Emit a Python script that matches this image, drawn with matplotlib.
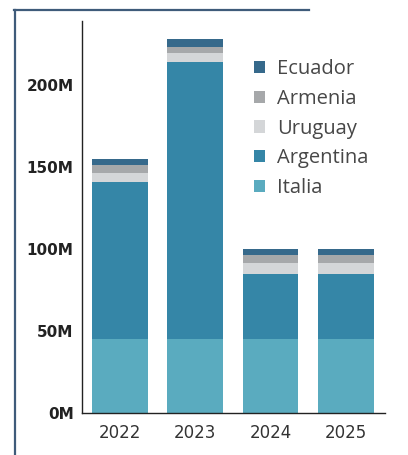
import matplotlib.pyplot as plt
from matplotlib.lines import Line2D
import numpy as np

years = ["2022", "2023", "2024", "2025"]
italia = [45, 45, 45, 45]
argentina = [96, 169, 40, 40]
uruguay = [5, 5.5, 6.5, 6.5]
armenia = [5, 3.5, 4.5, 4.5]
ecuador = [4, 5, 4, 4]

series = [
    ("Italia", italia, "#5aabbf"),
    ("Argentina", argentina, "#3586a7"),
    ("Uruguay", uruguay, "#d4d6d8"),
    ("Armenia", armenia, "#a6a8aa"),
    ("Ecuador", ecuador, "#36698b"),
]

fig = plt.figure(figsize=(4.08, 4.55), dpi=100)
ax = fig.add_axes([0.201, 0.0923, 0.743, 0.862])

x = np.arange(len(years))
bottom = np.zeros(len(years))
handles = []
for name, vals, color in series:
    bars = ax.bar(x, vals, bottom=bottom, width=0.74, color=color, label=name)
    bottom += np.array(vals)
    handles.append(bars)

ax.set_xlim(-0.5, 3.52)
ax.set_ylim(0, 239)
ax.set_yticks([0, 50, 100, 150, 200])
ax.set_yticklabels(["0M", "50M", "100M", "150M", "200M"])
ax.set_xticks(x)
ax.set_xticklabels(years)
ax.tick_params(axis="y", length=0, pad=6, labelsize=11, labelcolor="#222222")
ax.tick_params(axis="x", length=0, pad=8, labelsize=12, labelcolor="#333333")
for lbl in ax.get_yticklabels():
    lbl.set_fontweight("bold")
for side in ["top", "right"]:
    ax.spines[side].set_visible(False)
for side in ["left", "bottom"]:
    ax.spines[side].set_color("#222222")
    ax.spines[side].set_linewidth(1.0)

leg = ax.legend(
    handles[::-1], [s[0] for s in series][::-1],
    loc="upper left", bbox_to_anchor=(0.568, 0.902),
    frameon=False, prop={"family": "Open Sans", "size": 14.5},
    handlelength=0.55, handleheight=0.55, handletextpad=0.6,
    labelspacing=0.48, borderaxespad=0, borderpad=0,
)
for t in leg.get_texts():
    t.set_color("#474747")

# outer frame
frame_color = "#3f5b7a"
fig.add_artist(Line2D([14 / 408, 309 / 408], [1 - 10 / 455, 1 - 10 / 455],
                      color=frame_color, lw=1.6, transform=fig.transFigure))
fig.add_artist(Line2D([15 / 408, 15 / 408], [0, 1 - 10 / 455],
                      color=frame_color, lw=1.6, transform=fig.transFigure))

fig.savefig("out.png", dpi=100)
